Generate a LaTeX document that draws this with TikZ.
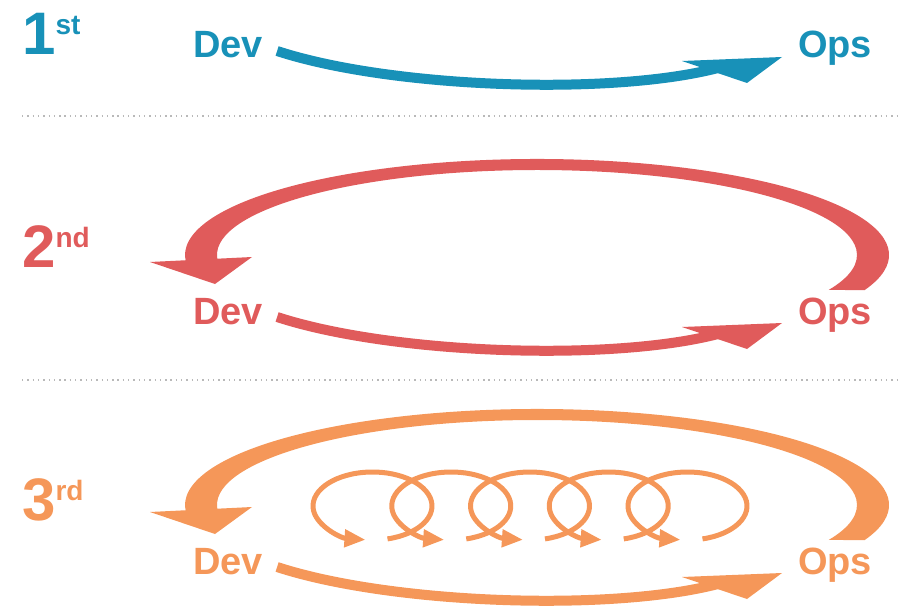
\documentclass[tikz,border=0pt]{standalone}
\usepackage{fontspec}
\setmainfont{Liberation Sans}
\usetikzlibrary{arrows.meta, calc}

\definecolor{devblue}{RGB}{24,145,184}
\definecolor{devred}{RGB}{224,91,91}
\definecolor{devorange}{RGB}{245,151,89}

\newcommand{\ordnum}[2]{#1\raisebox{20pt}{\fontsize{28}{28}\selectfont #2}}

\begin{document}
\begin{tikzpicture}[
	x=1pt, y=-1pt,
	every node/.style={inner sep=0pt},
	stagelabel/.style={text=#1, font=\bfseries\fontsize{38}{38}\selectfont, anchor=base west},
	ranklabel/.style={text=#1, font=\bfseries\fontsize{60}{60}\selectfont, anchor=base west},
	devshaft/.style={draw=#1, line width=10pt},
	coil/.style={draw=devorange, line width=5pt, -{Triangle[length=21pt, width=17pt]}},
	divider/.style={gray!55, line width=1.4pt, dash pattern=on 1.4pt off 3.9pt}
	]
	
	\useasboundingbox (0,0) rectangle (900,607);
	
	% === SEPARATORS ===
	\draw[divider] (22,116) -- (897,116);
	\draw[divider] (22,380) -- (897,380);
	
	% === RANKS ===
	\node[ranklabel=devblue] (rank1) at (22,55) {\ordnum{1}{st}};
	\node[ranklabel=devred] (rank2) at (22,267) {\ordnum{2}{nd}};
	\node[ranklabel=devorange] (rank3) at (22,520) {\ordnum{3}{rd}};
	
	% === DEV -> OPS ===
	\foreach \row/\col/\yo in {1/devblue/0, 2/devred/266, 3/devorange/516} {
		\node[stagelabel=\col] (dev\row) at (193,58+\yo) {Dev};
		\node[stagelabel=\col] (ops\row) at (798,58+\yo) {Ops};
		\draw[devshaft=\col] ($(dev\row.base east)+(14,-7)$)
			.. controls +(113,37) and +(-108,28) .. ($(ops\row.base west)+(-80,10)$);
		\fill[\col] ($(ops\row.base west)+(-116,3)$) -- ($(ops\row.base west)+(-16,-1)$)
			-- ($(ops\row.base west)+(-51,25)$) -- cycle;
	}
	
	% === OPS -> DEV (feedback loop) ===
	\foreach \row/\col/\yo in {2/devred/266, 3/devorange/516} {
		\coordinate (hub\row) at (537,-11+\yo);
		\fill[\col] ($(hub\row)+(21.4:352 and 96)$)
			arc[start angle=21.4, end angle=-184, x radius=352, y radius=96]
			-- ($(hub\row)+(-184:320 and 85)$)
			arc[start angle=-184, end angle=24.3, x radius=320, y radius=85] -- cycle;
		\fill[\col] (150,-4+\yo) -- (215,18+\yo) -- (252,-9+\yo) -- cycle;
	}
	
	% === SMALL ITERATIONS ===
	\foreach \k in {0,...,4} {
		\pgfmathsetmacro{\cx}{372.5+78.75*\k}
		\coordinate (spin\k) at (\cx,506);
		\draw[coil] ($(spin\k)+(75.4:59.5 and 34)$)
			arc[start angle=75.4, end angle=-263.2, x radius=59.5, y radius=34];
	}
	
\end{tikzpicture}
\end{document}
